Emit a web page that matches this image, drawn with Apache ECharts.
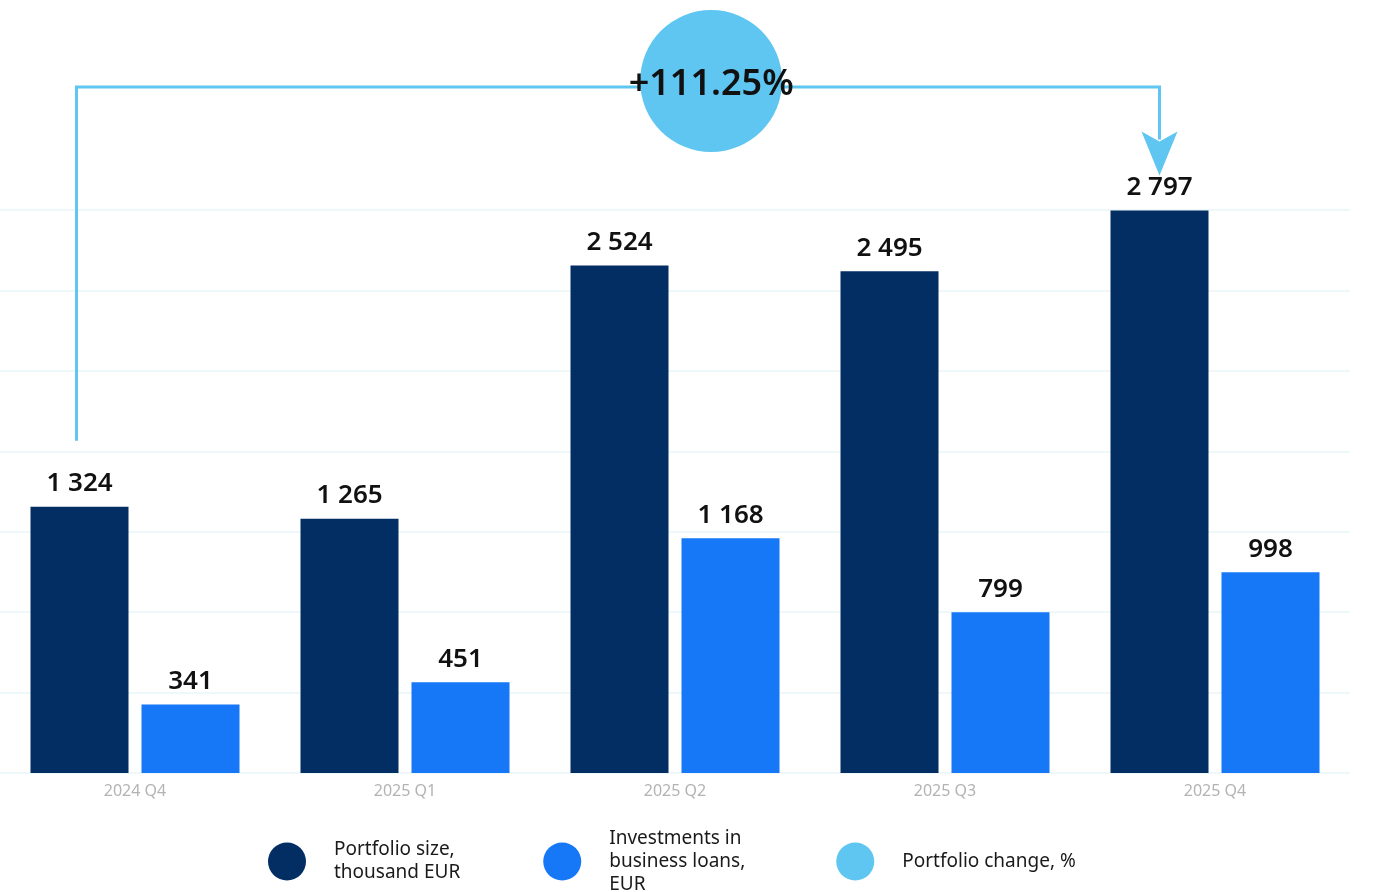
<!DOCTYPE html>
<html>
<head>
<meta charset="utf-8">
<title>Portfolio</title>
<script src="https://cdn.jsdelivr.net/npm/echarts@6/dist/echarts.min.js"></script>
<style>
  html, body { margin: 0; padding: 0; background: #ffffff; }
  #chart { width: 1373px; height: 892px; }
</style>
</head>
<body>
<div id="chart"></div>
<script>
// Quarters on the x axis
const quarters = ['2024 Q4', '2025 Q1', '2025 Q2', '2025 Q3', '2025 Q4'];
// Portfolio size, thousand EUR
const portfolioSize = [1324, 1265, 2524, 2495, 2797];
// Investments in business loans, EUR
const businessLoans = [341, 451, 1168, 799, 998];
// Value axis ticks
const yTicks = [0, 400, 800, 1200, 1600, 2000, 2400, 2800];

const seriesNames = [
  'Portfolio size,\nthousand EUR',
  'Investments in\nbusiness loans,\nEUR',
  'Portfolio change, %'
];

const COLOR_DARK = '#022e63';
const COLOR_BLUE = '#1677f7';
const COLOR_SKY = '#5ec6f0';
const FONT = '"Noto Sans", "Open Sans", sans-serif';

const BAR_WIDTH = 98;
const BAR_GAP = 13;

// Change between the first and the last quarter
const firstIdx = 0;
const lastIdx = portfolioSize.length - 1;
const changePct = (portfolioSize[lastIdx] / portfolioSize[firstIdx] - 1) * 100;
const changeLabel = '+' + changePct.toFixed(2) + '%';

const fmt = v => String(v).replace(/\B(?=(\d{3})+(?!\d))/g, ' ');

const valueLabel = {
  show: true,
  position: 'top',
  distance: 10,
  color: '#111111',
  fontFamily: FONT,
  fontSize: 26,
  fontWeight: 600,
  formatter: p => fmt(p.value)
};

const chart = echarts.init(document.getElementById('chart'), null, { renderer: 'canvas' });

chart.setOption({
  animation: false,
  backgroundColor: '#ffffff',
  grid: { left: 0, right: 23, top: 210, bottom: 119, containLabel: false },
  legend: {
    left: 263,
    top: 822,
    icon: 'circle',
    itemWidth: 38,
    itemHeight: 38,
    itemGap: 83,
    selectedMode: false,
    textStyle: {
      color: '#1a1a1a',
      fontFamily: FONT,
      fontSize: 19,
      lineHeight: 23,
      padding: [0, 0, 0, 23]
    },
    data: [
      { name: seriesNames[0] },
      { name: seriesNames[1], textStyle: { padding: [0, 8, 0, 23] } },
      { name: seriesNames[2] }
    ]
  },
  xAxis: {
    type: 'category',
    data: quarters,
    axisLine: { show: false },
    axisTick: { show: false },
    axisLabel: {
      color: '#b3b3b3',
      fontFamily: FONT,
      fontSize: 16,
      margin: 10
    }
  },
  yAxis: {
    type: 'value',
    min: yTicks[0],
    max: yTicks[yTicks.length - 1],
    interval: yTicks[1] - yTicks[0],
    axisLabel: { show: false },
    axisLine: { show: false },
    axisTick: { show: false },
    splitLine: { lineStyle: { color: '#e9f4f8', width: 1.5 } }
  },
  series: [
    {
      name: seriesNames[0],
      type: 'bar',
      data: portfolioSize,
      barWidth: BAR_WIDTH,
      barGap: (BAR_GAP / BAR_WIDTH * 100) + '%',
      itemStyle: { color: COLOR_DARK },
      label: valueLabel
    },
    {
      name: seriesNames[1],
      type: 'bar',
      data: businessLoans,
      barWidth: BAR_WIDTH,
      itemStyle: { color: COLOR_BLUE },
      label: valueLabel
    },
    {
      // Bracket from the first to the last portfolio bar with the change bubble
      name: seriesNames[2],
      type: 'custom',
      itemStyle: { color: COLOR_SKY },
      z: 5,
      clip: false,
      encode: { x: [0, 2], y: [1, 3] },
      data: [[firstIdx, portfolioSize[firstIdx], lastIdx, portfolioSize[lastIdx]]],
      renderItem: function (params, api) {
        const shift = -(BAR_WIDTH + BAR_GAP) / 2;
        const a = api.coord([api.value(0), api.value(1)]);
        const b = api.coord([api.value(2), api.value(3)]);
        const x0 = a[0] + shift - 3;
        const x1 = b[0] + shift;
        const yStart = a[1] - 66;
        const yTop = 87;
        const tipY = b[1] - 35;
        const cx = x0 + (x1 - x0) * 0.586;
        const cy = 81;
        return {
          type: 'group',
          children: [
            {
              type: 'polyline',
              shape: { points: [[x0, yStart], [x0, yTop], [x1, yTop], [x1, tipY - 36]] },
              style: { stroke: COLOR_SKY, lineWidth: 3, fill: null }
            },
            {
              type: 'polygon',
              shape: { points: [[x1 - 18, tipY - 44], [x1, tipY - 34], [x1 + 18, tipY - 44], [x1, tipY]] },
              style: { fill: COLOR_SKY }
            },
            {
              type: 'circle',
              shape: { cx: cx, cy: cy, r: 71 },
              style: { fill: COLOR_SKY }
            },
            {
              type: 'text',
              x: cx,
              y: cy + 4,
              style: {
                text: changeLabel,
                fill: '#111111',
                font: '600 36px ' + FONT,
                align: 'center',
                verticalAlign: 'middle'
              }
            }
          ]
        };
      }
    }
  ]
});
</script>
</body>
</html>
